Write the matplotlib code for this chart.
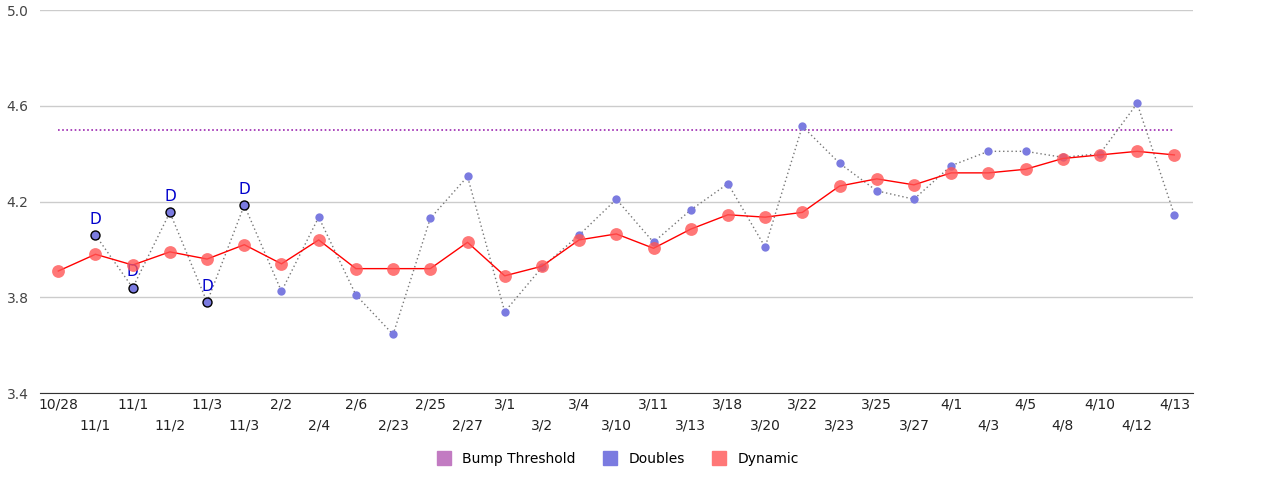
import numpy as np
import matplotlib.pyplot as plt
from matplotlib.lines import Line2D

dates = ["10/28", "11/1", "11/1", "11/2", "11/3", "11/3", "2/2", "2/4", "2/6", "2/23",
         "2/25", "2/27", "3/1", "3/2", "3/4", "3/10", "3/11", "3/13", "3/18", "3/20",
         "3/22", "3/23", "3/25", "3/27", "4/1", "4/3", "4/5", "4/8", "4/10", "4/12", "4/13"]
dynamic = [3.91, 3.98, 3.935, 3.99, 3.96, 4.02, 3.94, 4.04, 3.92, 3.92,
           3.92, 4.03, 3.89, 3.93, 4.04, 4.065, 4.005, 4.085, 4.145, 4.135,
           4.155, 4.265, 4.295, 4.27, 4.32, 4.32, 4.335, 4.38, 4.395, 4.41, 4.395]
doubles = [np.nan, 4.06, 3.84, 4.155, 3.78, 4.185, 3.825, 4.135, 3.81, 3.645,
           4.13, 4.305, 3.74, 3.925, 4.06, 4.21, 4.03, 4.165, 4.275, 4.01,
           4.515, 4.36, 4.245, 4.21, 4.35, 4.41, 4.41, 4.385, 4.40, 4.61, 4.145]
flagged = [1, 2, 3, 4, 5]  # doubles marked with "D"
threshold = 4.5

x = np.arange(len(dates))
doubles = np.array(doubles)

fig = plt.figure(figsize=(12.8, 4.8), dpi=100)
ax = fig.add_axes([0.031, 0.181, 0.901, 0.798])

ax.plot(x, [threshold] * len(x), color="#9c27b0", linestyle=(0, (1, 1.5)), linewidth=1.2, zorder=2)
ax.plot(x, doubles, color="#777777", linestyle=(0, (1, 2)), linewidth=1, zorder=2)
ax.scatter(x, doubles, s=36, color="#7b7be0", zorder=3, linewidths=0)
ax.scatter(x[flagged], doubles[flagged], s=42, color="#7b7be0", edgecolors="black", linewidths=1, zorder=4)
for i in flagged:
    ax.text(i, doubles[i] + 0.035, "D", color="#0000cc", ha="center", va="bottom", fontsize=11, zorder=5)
ax.plot(x, dynamic, color="red", linewidth=1, zorder=4)
ax.scatter(x, dynamic, s=85, color="#ff5555", alpha=0.8, linewidths=0, zorder=5)

ax.set_xlim(-0.5, len(x) - 0.5)
ax.set_ylim(3.4, 5.0)
ax.set_yticks([3.4, 3.8, 4.2, 4.6, 5.0])
ax.set_yticklabels(["3.4", "3.8", "4.2", "4.6", "5.0"], fontsize=10, color="#444444")
ax.yaxis.grid(True, color="#cccccc", linewidth=1)
ax.set_axisbelow(True)
for s in ["top", "right", "left"]:
    ax.spines[s].set_visible(False)
ax.spines["bottom"].set_color("#333333")
ax.tick_params(axis="y", length=0, pad=8)
ax.tick_params(axis="x", length=0)

ax.set_xticks(x)
ax.set_xticklabels([d if i % 2 == 0 else "\n" + d for i, d in enumerate(dates)],
                   fontsize=10, color="#222222", linespacing=1.6)

handles = [Line2D([], [], marker="s", linestyle="", markersize=10, color=c)
           for c in ["#c27bc2", "#7b7be0", "#ff7777"]]
fig.legend(handles, ["Bump Threshold", "Doubles", "Dynamic"], loc="center",
           bbox_to_anchor=(0.48, 0.043), ncol=3, frameon=False, fontsize=10,
           handletextpad=0.3, columnspacing=1.5)

plt.savefig("out.png", dpi=100)
